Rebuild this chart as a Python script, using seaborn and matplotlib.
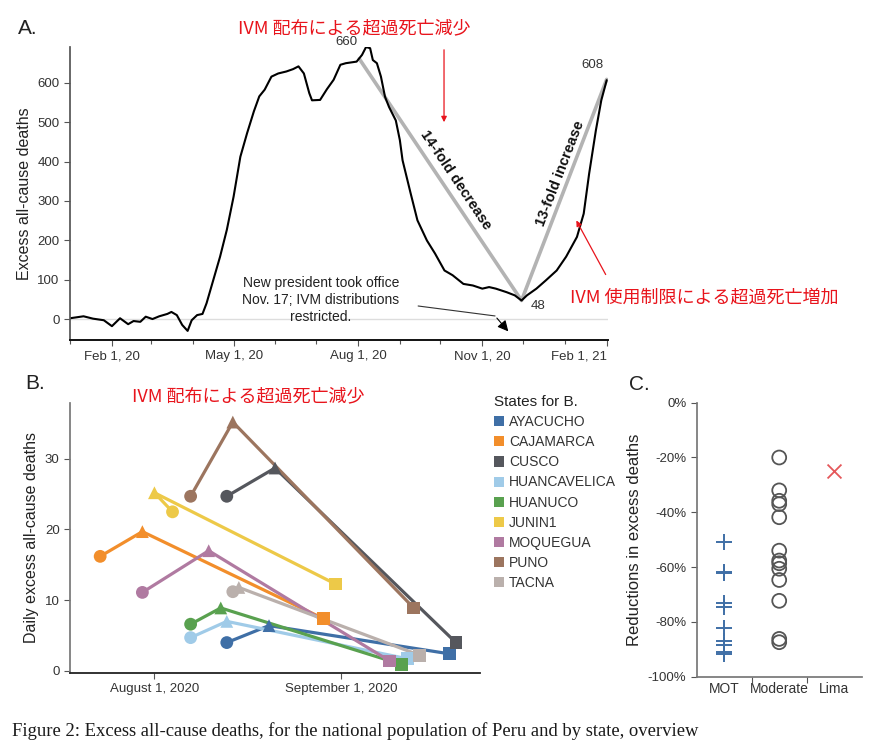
import math
import pandas as pd
import matplotlib
matplotlib.use('Agg')
import matplotlib.pyplot as plt
import matplotlib.dates as mdates
from matplotlib.patches import Patch
import seaborn as sns

# ---- Panel A: national excess all-cause deaths ----
a_dates = ['2020-01-01', '2020-01-11', '2020-01-18', '2020-01-26', '2020-02-01',
           '2020-02-07', '2020-02-13', '2020-02-17', '2020-02-22', '2020-02-26',
           '2020-03-02', '2020-03-07', '2020-03-13', '2020-03-16', '2020-03-20',
           '2020-03-24', '2020-03-28', '2020-03-31', '2020-04-04', '2020-04-08',
           '2020-04-11', '2020-04-16', '2020-04-21', '2020-04-26', '2020-05-01',
           '2020-05-06', '2020-05-11', '2020-05-16', '2020-05-20', '2020-05-24',
           '2020-05-29', '2020-06-03', '2020-06-09', '2020-06-14', '2020-06-18',
           '2020-06-22', '2020-06-26', '2020-06-28', '2020-07-04', '2020-07-09',
           '2020-07-14', '2020-07-19', '2020-07-23', '2020-07-31', '2020-08-04',
           '2020-08-07', '2020-08-10', '2020-08-12', '2020-08-15', '2020-08-18',
           '2020-08-21', '2020-08-24', '2020-08-29', '2020-09-01', '2020-09-03',
           '2020-09-06', '2020-09-09', '2020-09-14', '2020-09-21', '2020-09-27',
           '2020-10-04', '2020-10-10', '2020-10-18', '2020-10-25', '2020-11-01',
           '2020-11-06', '2020-11-11', '2020-11-19', '2020-11-25', '2020-11-30',
           '2020-12-04', '2020-12-11', '2020-12-18', '2020-12-26', '2021-01-02',
           '2021-01-10', '2021-01-15', '2021-01-19', '2021-01-24', '2021-01-28',
           '2021-02-01']
a_deaths = [3, 8, 2, -2, -17, 3, -12, -4, -6, 7,
            1, 8, 14, 19, 11, -14, -29, -2, 11, 14,
            41, 100, 159, 227, 311, 412, 472, 527, 565, 582,
            615, 623, 628, 634, 641, 623, 573, 555, 556, 583,
            607, 645, 649, 653, 670, 690, 687, 657, 649, 615,
            564, 538, 504, 454, 403, 361, 319, 251, 200, 167,
            124, 112, 90, 86, 78, 82, 78, 69, 61, 48,
            61, 78, 99, 124, 159, 209, 268, 369, 479, 555,
            606]

# gray V: peak, trough, latest
v_dates = ['2020-08-02', '2020-11-30', '2021-02-01']
v_deaths = [660, 48, 608]
v_offsets = [(-9, 12), (12, -4), (-10, 10)]

a_tick_dates = ['2020-02-01', '2020-05-01', '2020-08-01', '2020-11-01', '2021-02-01']
a_tick_labels = ['Feb 1, 20', 'May 1, 20', 'Aug 1, 20', 'Nov 1, 20', 'Feb 1, 21']

# ---- Panel B: states ----
states = ['AYACUCHO', 'CAJAMARCA', 'CUSCO', 'HUANCAVELICA', 'HUANUCO',
          'JUNIN1', 'MOQUEGUA', 'PUNO', 'TACNA']
state_colors = ['#3f6fa6', '#f28e2b', '#55575d', '#a0cbe8', '#59a14f',
                '#edc948', '#b07aa1', '#9c755f', '#bab0ac']
start_dates = ['2020-08-13', '2020-07-23', '2020-08-13', '2020-08-07', '2020-08-07',
               '2020-08-04', '2020-07-30', '2020-08-07', '2020-08-14']
start_vals = [4.0, 16.2, 24.7, 4.7, 6.6, 22.5, 11.1, 24.7, 11.2]
peak_dates = ['2020-08-20', '2020-07-30', '2020-08-21', '2020-08-13', '2020-08-12',
              '2020-08-01', '2020-08-10', '2020-08-14', '2020-08-15']
peak_vals = [6.4, 19.7, 28.7, 7.0, 8.9, 25.2, 17.0, 35.2, 11.8]
end_dates = ['2020-09-19', '2020-08-29', '2020-09-20', '2020-09-12', '2020-09-11',
             '2020-08-31', '2020-09-09', '2020-09-13', '2020-09-14']
end_vals = [2.4, 7.4, 4.0, 1.7, 0.9, 12.3, 1.4, 8.9, 2.2]

b_tick_dates = ['2020-08-01', '2020-09-01']
b_tick_labels = ['August 1, 2020', 'September 1, 2020']

# ---- Panel C: reductions in excess deaths ----
groups = ['MOT', 'Moderate', 'Lima']
mot_reduction = [-50.7, -61.8, -62.3, -73.0, -74.5, -82.2, -86.9, -88.4, -90.9, -91.7]
moderate_reduction = [-20.0, -32.0, -35.8, -37.0, -41.8, -54.0, -57.6, -58.6,
                      -60.6, -64.7, -72.3, -86.2, -87.4]
lima_reduction = [-25.0]

RED = '#e8141c'
JP = ['Noto Sans CJK JP', 'DejaVu Sans']

sns.set_theme(style='ticks')
plt.rcParams['font.family'] = ['Liberation Sans', 'Noto Sans CJK JP', 'DejaVu Sans']
plt.rcParams['axes.edgecolor'] = '#555555'
plt.rcParams['xtick.color'] = '#555555'
plt.rcParams['ytick.color'] = '#555555'
plt.rcParams['xtick.labelcolor'] = '#333333'
plt.rcParams['ytick.labelcolor'] = '#333333'

fig = plt.figure(figsize=(8.72, 7.51), dpi=100)
ax_a = fig.add_axes([0.0803, 0.5473, 0.6170, 0.3901])
ax_b = fig.add_axes([0.0803, 0.1039, 0.4702, 0.3595])
ax_c = fig.add_axes([0.7990, 0.0989, 0.1892, 0.3649])

# ---------------- Panel A ----------------
ax_a.axhline(0, color='#dddddd', lw=1, zorder=0)
sns.lineplot(x=pd.to_datetime(v_dates), y=v_deaths, color='#b3b3b3',
             linewidth=2.6, ax=ax_a, zorder=1)
sns.lineplot(x=pd.to_datetime(a_dates), y=a_deaths, color='black',
             linewidth=1.5, ax=ax_a, zorder=2)

ax_a.set_xlim(pd.Timestamp('2020-01-01'), pd.Timestamp('2021-02-02'))
ax_a.set_ylim(-52, 690)
ax_a.set_yticks(range(0, 601, 100))
ax_a.set_xticks(pd.to_datetime(a_tick_dates))
ax_a.set_xticklabels(a_tick_labels)
ax_a.get_xticklabels()[-1].set_ha('right')
ax_a.xaxis.set_minor_locator(mdates.MonthLocator())
ax_a.tick_params(axis='both', labelsize=9.5, length=4, width=0.8)
ax_a.tick_params(axis='x', which='minor', length=3, width=0.8)
ax_a.set_xlabel('')
ax_a.set_ylabel('Excess all-cause deaths', fontsize=11.5, color='#222222')
sns.despine(ax=ax_a)
ax_a.spines['bottom'].set_color('#111111')
ax_a.spines['bottom'].set_linewidth(1.4)

for d, v, off in zip(v_dates, v_deaths, v_offsets):
    ax_a.annotate(str(v), (pd.Timestamp(d), v), xytext=off,
                  textcoords='offset points', ha='center', va='center',
                  fontsize=9.5, color='#333333')


def seg_info(d0, v0, d1, v1):
    x0, x1 = mdates.date2num(pd.Timestamp(d0)), mdates.date2num(pd.Timestamp(d1))
    p0 = ax_a.transData.transform((x0, v0))
    p1 = ax_a.transData.transform((x1, v1))
    ang = math.degrees(math.atan2(p1[1] - p0[1], p1[0] - p0[0]))
    return ((x0 + x1) / 2, (v0 + v1) / 2), ang


mid, ang = seg_info(v_dates[0], v_deaths[0], v_dates[1], v_deaths[1])
ax_a.annotate('14-fold decrease', mid, xytext=(11, 0), textcoords='offset points',
              rotation=ang, rotation_mode='anchor', ha='center', va='center',
              fontsize=10.5, fontweight='bold', color='#111111')
mid, ang = seg_info(v_dates[1], v_deaths[1], v_dates[2], v_deaths[2])
ax_a.annotate('13-fold increase', mid, xytext=(-3, 12), textcoords='offset points',
              rotation=ang, rotation_mode='anchor', ha='center', va='center',
              fontsize=10.5, fontweight='bold', color='#111111')

# new president note with bent arrow
ax_a.text(0.466, 0.136, 'New president took office\nNov. 17; IVM distributions\nrestricted.',
          transform=ax_a.transAxes, ha='center', va='center', fontsize=10,
          linespacing=1.3, color='#222222')
ax_a.plot([0.647, 0.790], [0.116, 0.082], transform=ax_a.transAxes,
          color='#333333', lw=0.8)
ax_a.annotate('', xy=(0.818, 0.022), xytext=(0.790, 0.082),
              xycoords='axes fraction', textcoords='axes fraction',
              arrowprops=dict(arrowstyle='-|>', color='black', lw=0.8,
                              mutation_scale=16))

fig.text(0.0206, 0.9614, 'A.', fontsize=15, color='#222222', va='center')
fig.text(0.4065, 0.9623, 'IVM 配布による超過死亡減少', family=JP, fontsize=13,
         color=RED, ha='center', va='center')
fig.text(0.6537, 0.6032, 'IVM 使用制限による超過死亡増加', family=JP, fontsize=13,
         color=RED, ha='left', va='center')
fig.add_artist(matplotlib.patches.FancyArrowPatch(
    (0.5092, 0.9374), (0.5092, 0.8336), transform=fig.transFigure,
    arrowstyle='-|>', mutation_scale=8, color=RED, lw=0.9))
fig.add_artist(matplotlib.patches.FancyArrowPatch(
    (0.6961, 0.6312), (0.6594, 0.7097), transform=fig.transFigure,
    arrowstyle='-|>', mutation_scale=8, color=RED, lw=0.9))

# ---------------- Panel B ----------------
rows = []
for i, s in enumerate(states):
    rows.append(dict(state=s, phase='start', date=start_dates[i], value=start_vals[i]))
    rows.append(dict(state=s, phase='peak', date=peak_dates[i], value=peak_vals[i]))
    rows.append(dict(state=s, phase='end', date=end_dates[i], value=end_vals[i]))
df_b = pd.DataFrame(rows)
df_b['date'] = pd.to_datetime(df_b['date'])
palette = dict(zip(states, state_colors))

sns.lineplot(data=df_b, x='date', y='value', hue='state', palette=palette,
             sort=False, estimator=None, linewidth=2.3, legend=False, ax=ax_b)
sns.scatterplot(data=df_b, x='date', y='value', hue='state', style='phase',
                markers={'start': 'o', 'peak': '^', 'end': 's'}, palette=palette,
                s=85, linewidth=0, legend=False, ax=ax_b, zorder=3)

ax_b.set_xlim(pd.Timestamp('2020-07-18'), pd.Timestamp('2020-09-24'))
ax_b.set_ylim(-0.3, 37.9)
ax_b.set_yticks([0, 10, 20, 30])
ax_b.set_xticks(pd.to_datetime(b_tick_dates))
ax_b.set_xticklabels(b_tick_labels)
ax_b.tick_params(axis='both', labelsize=9.5, length=4, width=0.8)
ax_b.set_xlabel('')
ax_b.set_ylabel('Daily excess all-cause deaths', fontsize=11.5, color='#222222')
sns.despine(ax=ax_b)
ax_b.spines['left'].set_color('#777777')
ax_b.spines['bottom'].set_color('#222222')
ax_b.spines['bottom'].set_linewidth(1.3)

fig.text(0.0287, 0.4896, 'B.', fontsize=15, color='#222222', va='center')
fig.text(0.2844, 0.4718, 'IVM 配布による超過死亡減少', family=JP, fontsize=13,
         color=RED, ha='center', va='center')

handles = [Patch(facecolor=c, edgecolor='none') for c in state_colors]
leg = fig.legend(handles, states, loc='upper left', bbox_to_anchor=(0.566, 0.474),
                 frameon=False, title='States for B.', alignment='left',
                 fontsize=10, title_fontsize=11, handlelength=0.75,
                 handleheight=0.75, handletextpad=0.35, labelspacing=0.44,
                 borderaxespad=0, borderpad=0)
for t in leg.get_texts():
    t.set_color('#333333')
leg.get_title().set_color('#222222')

# ---------------- Panel C ----------------
df_c = pd.DataFrame({
    'group': ['MOT'] * len(mot_reduction) + ['Moderate'] * len(moderate_reduction)
             + ['Lima'] * len(lima_reduction),
    'reduction': mot_reduction + moderate_reduction + lima_reduction,
})
sns.stripplot(data=df_c[df_c['group'] == 'MOT'], x='group', y='reduction',
              order=groups, jitter=False, marker='+', color='#3f6fa6',
              size=11, linewidth=1.4, ax=ax_c)
n_before = len(ax_c.collections)
sns.stripplot(data=df_c[df_c['group'] == 'Moderate'], x='group', y='reduction',
              order=groups, jitter=False, marker='o', color='#555555',
              edgecolor='#555555', size=10, linewidth=1.3, ax=ax_c)
# open circles
for coll in ax_c.collections[n_before:]:
    coll.set_facecolor('none')
    coll.set_edgecolor('#555555')
    coll.set_linewidth(1.3)
sns.stripplot(data=df_c[df_c['group'] == 'Lima'], x='group', y='reduction',
              order=groups, jitter=False, marker='x', color='#e5575a',
              size=10, linewidth=1.3, ax=ax_c)

ax_c.set_xlim(-0.5, 2.5)
ax_c.set_ylim(-100, 0)
ax_c.set_yticks(range(0, -101, -20))
ax_c.set_yticklabels([f'{v}%' for v in range(0, -101, -20)])
ax_c.set_xticks([0.5, 1.5], minor=True)
ax_c.tick_params(axis='x', which='major', length=0, labelsize=10)
ax_c.tick_params(axis='x', which='minor', length=4, width=0.8)
ax_c.tick_params(axis='y', labelsize=9.5, length=4, width=0.8)
ax_c.set_xlabel('')
ax_c.set_ylabel('Reductions in excess deaths', fontsize=12, color='#222222')
sns.despine(ax=ax_c)
ax_c.spines['left'].set_color('#777777')
ax_c.spines['bottom'].set_color('#777777')

fig.text(0.7213, 0.4874, 'C.', fontsize=15, color='#222222', va='center')

fig.text(0.014, 0.027, 'Figure 2: Excess all-cause deaths, for the national population '
         'of Peru and by state, overview', family='Liberation Serif', fontsize=13.4,
         color='#1a1a1a', va='center')

fig.savefig('out.png', dpi=100)
